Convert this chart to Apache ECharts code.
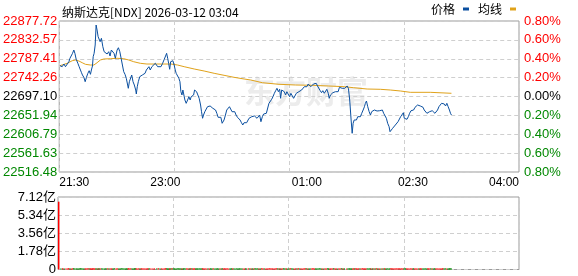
<!DOCTYPE html>
<html><head><meta charset="utf-8">
<script src="https://cdn.jsdelivr.net/npm/echarts@6/dist/echarts.min.js"></script>
<style>html,body{margin:0;padding:0;background:#fff}#c{width:578px;height:276px}</style>
</head><body><div id="c"></div>
<script>
const titleText = '纳斯达克[NDX] 2026-03-12 03:04';
const prevClose = 22697.10;
const priceStep = 45.155;
const leftLabels = ['22516.48','22561.63','22606.79','22651.94','22697.10','22742.26','22787.41','22832.57','22877.72'];
const rightLabels = ['0.80%','0.60%','0.40%','0.20%','0.00%','0.20%','0.40%','0.60%','0.80%'];
const volLabels = ['0','1.78亿','3.56亿','5.34亿','7.12亿'];
const volStep = 1.78;
const timeLabels = {0:'21:30', 90:'23:00', 210:'01:00', 300:'02:30', 390:'04:00'};

const priceTimes = [0.6,2.5,4.0,5.3,6.8,8.2,9.1,10.2,11.3,12.4,13.3,14.4,15.8,16.9,18.0,18.9,19.7,20.9,22.0,23.1,24.3,25.4,26.5,27.3,28.2,28.8,29.6,30.5,31.3,32.1,33.0,33.8,34.7,35.8,37.0,38.1,39.5,40.6,42.0,43.1,44.2,45.4,46.5,47.6,49.1,50.2,51.4,52.5,53.6,54.7,55.8,56.9,57.8,58.6,59.5,60.3,61.5,62.6,63.7,64.9,65.4,66.2,67.1,68.3,69.4,70.5,71.7,72.8,73.9,75.0,76.1,77.2,78.6,80.1,81.5,
83.5,84.9,86.3,87.7,89.1,90.3,91.1,92.0,92.8,93.7,94.5,95.3,96.4,97.5,98.4,99.2,100.4,101.5,102.4,103.2,104.1,104.9,105.8,106.6,107.7,108.9,110.0,111.1,111.9,113.1,114.0,114.8,115.6,116.5,117.6,118.7,119.9,120.7,121.6,122.4,123.5,124.6,125.8,126.9,128.0,129.2,130.3,131.4,132.6,133.7,134.8,136.0,137.1,138.2,139.0,139.8,141.0,142.1,143.2,144.4,145.5,146.6,147.8,148.9,150.0,151.2,152.3,153.4,154.6,155.7,156.8,158.0,159.0,
161.0,162.2,163.3,164.4,165.6,166.7,167.8,168.9,170.0,171.1,172.3,173.4,174.5,175.7,176.8,177.9,179.1,180.2,181.3,182.5,183.6,184.7,185.9,187.0,187.8,188.7,189.8,190.9,192.0,193.1,194.3,195.4,196.5,197.7,198.8,199.9,201.1,202.2,203.3,204.5,205.6,206.7,207.9,209.0,210.1,211.2,212.3,213.4,214.6,215.7,216.8,218.0,219.1,220.2,221.4,222.5,223.6,224.8,225.9,227.0,228.2,229.0,230.1,231.0,232.1,233.2,234.3,235.4,236.6,237.7,238.8,240.0,241.1,242.2,
244.2,245.3,246.4,247.6,248.5,249.3,250.2,251.0,252.1,253.2,254.4,255.5,256.6,257.8,258.9,259.7,260.6,261.7,262.9,264.0,265.0,266.2,267.3,268.4,269.6,270.7,271.8,273.0,274.1,275.2,276.4,277.5,278.6,279.8,280.6,281.7,282.8,284.0,285.1,286.2,287.4,288.5,289.6,290.8,291.9,292.7,293.8,295.0,296.1,297.2,298.4,299.5,300.6,301.8,302.9,304.0,305.2,306.3,307.4,308.6,309.6,310.7,311.9,313.0,314.1,315.3,316.4,317.5,318.7,319.8,320.9,322.1,323.2,324.3,325.5,326.6,327.7,328.8,329.9,331.0,331.9,332.7];

const prices = [22770.8,22768.4,22774.8,22768.4,22772.4,22780.3,22788.5,22786.1,22800.4,22808.3,22800.4,22786.1,22776.5,22768.4,22764.6,22754.0,22748.5,22743.0,22732.5,22743.0,22752.6,22758.8,22750.2,22760.5,22770.1,22792.3,22800.4,22820.3,22868.1,22856.2,22840.1,22844.2,22828.2,22836.3,22816.2,22804.3,22800.4,22798.8,22804.3,22794.0,22808.3,22812.4,22800.4,22788.5,22808.3,22813.8,22804.3,22788.5,22772.4,22756.4,22750.2,22740.6,22738.2,22716.7,22732.5,22736.6,22748.5,22732.5,22724.6,22712.6,22703.1,22720.5,22732.5,22744.5,22740.6,22748.5,22748.5,22752.6,22760.5,22764.6,22768.4,22760.5,22768.4,22772.4,22776.5,
22768.4,22770.1,22768.4,22776.5,22786.1,22788.5,22800.4,22788.5,22776.5,22762.2,22780.3,22776.5,22782.7,22772.4,22760.5,22752.6,22748.5,22740.6,22732.5,22708.6,22700.7,22712.6,22708.6,22688.7,22680.8,22688.7,22696.6,22688.7,22696.6,22692.8,22700.7,22712.6,22716.7,22708.6,22700.7,22692.8,22676.8,22660.7,22645.0,22652.8,22660.7,22664.8,22672.7,22668.9,22674.4,22672.7,22668.9,22672.7,22664.8,22656.9,22647.3,22645.0,22647.3,22633.0,22628.9,22640.9,22652.8,22664.8,22668.9,22672.7,22668.9,22660.7,22663.1,22660.7,22652.8,22647.3,22645.0,22640.9,22634.4,22628.9,22634.4,22636.8,22634.4,
22645.0,22640.9,22648.8,22647.3,22650.5,22648.8,22645.0,22642.6,22652.8,22636.8,22648.8,22655.2,22652.8,22656.9,22660.7,22680.8,22684.7,22690.4,22696.6,22704.8,22711.0,22716.7,22708.6,22714.3,22692.8,22712.6,22714.3,22708.6,22700.7,22708.6,22704.8,22696.6,22704.8,22700.7,22692.8,22698.3,22704.8,22703.1,22708.6,22706.2,22712.6,22716.7,22720.5,22724.6,22720.5,22727.0,22724.6,22720.5,22724.6,22727.0,22730.1,22728.7,22722.2,22720.5,22711.0,22706.2,22711.0,22704.8,22708.6,22714.3,22704.8,22692.8,22700.7,22704.8,22706.2,22704.8,22708.6,22712.6,22708.6,22719.1,22722.2,22716.7,22720.5,22716.7,
22722.2,22716.7,22688.7,22640.9,22609.1,22633.0,22640.9,22636.8,22640.9,22648.8,22652.8,22648.8,22656.9,22664.8,22672.7,22680.8,22686.3,22672.7,22660.7,22652.8,22660.7,22656.9,22664.8,22660.7,22662.4,22660.7,22663.1,22660.7,22664.8,22656.9,22658.3,22645.0,22633.0,22624.9,22612.9,22617.0,22621.0,22624.9,22628.9,22633.0,22636.8,22640.9,22648.8,22652.8,22658.3,22645.0,22642.6,22642.6,22648.8,22656.9,22663.1,22666.5,22664.8,22671.3,22672.7,22676.8,22672.7,22674.4,22676.8,22671.3,22664.8,22660.7,22656.9,22660.7,22660.7,22658.3,22663.1,22660.7,22656.9,22656.9,22664.8,22672.7,22676.8,22680.8,22682.3,22679.2,22674.4,22680.8,22672.7,22664.8,22656.9,22652.8];

const avgTimes = [0.6,6.8,11.0,13.8,16.7,19.5,22.3,26.5,29.4,32.1,34.9,37.8,43.4,49.1,54.7,59.0,63.2,68.8,74.4,82.3,94.8,100.4,106.0,114.5,122.9,131.4,139.8,148.3,156.8,162.4,172.3,186.4,200.5,214.6,228.7,242.2,249.8,261.2,272.4,280.9,289.3,297.8,314.7,316.1,332.7];
const avgPrices = [22770.8,22776.5,22782.7,22784.4,22782.0,22777.9,22774.1,22772.4,22772.4,22777.9,22784.4,22786.8,22787.5,22788.5,22787.5,22784.4,22780.3,22776.5,22774.8,22774.8,22774.8,22772.4,22768.4,22762.9,22758.1,22752.6,22747.8,22743.0,22739.0,22736.6,22730.1,22726.3,22724.6,22723.9,22722.2,22720.5,22718.1,22715.0,22714.3,22712.6,22710.3,22707.1,22707.1,22704.8,22704.8];

const volumes = [6.66,0.10,0.12,0.09,0.11,0.10,0.12,0.10,0.09,0.11,0.12,0.10,0.11,0.09,0.10,0.12,0.11,0.10,0.09,0.11,
0.10,0.12,0.10,0.11,0.09,0.10,0.12,0.11,0.10,0.09,0.11,0.10,0.12,0.10,0.11,0.09,0.10,0.12,0.11,0.10,
0.09,0.11,0.10,0.12,0.10,0.11,0.09,0.10,0.12,0.11,0.10,0.09,0.11,0.10,0.12,0.10,0.11,0.09,0.10,0.12,
0.11,0.10,0.09,0.11,0.10,0.12,0.10,0.11,0.09,0.10,0.12,0.11,0.10,0.09,0.11,0.10,0.12,0.10,0.11,0.09,
0.10,0.12,0.11,0.10,0.09,0.11,0.10,0.12,0.10,0.11,0.09,0.10,0.12,0.11,0.10,0.09,0.11,0.10,0.12,0.10,
0.11,0.09,0.10,0.12,0.11,0.10,0.09,0.11,0.10,0.12,0.10,0.11,0.09,0.10,0.12,0.11,0.10,0.09,0.11,0.10,
0.12,0.10,0.11,0.09,0.10,0.12,0.11,0.10,0.09,0.11,0.10,0.12,0.10,0.11,0.09,0.10,0.12,0.11,0.10,0.09,
0.11,0.10,0.12,0.10,0.11,0.09,0.10,0.12,0.11,0.10,0.09,0.11,0.10,0.12,0.10,0.11,0.09,0.10,0.12,0.11,
0.10,0.09,0.11,0.10,0.12,0.10,0.11,0.09,0.10,0.12,0.11,0.10,0.09,0.11,0.10,0.12,0.10,0.11,0.09,0.10,
0.12,0.11,0.10,0.09,0.11,0.10,0.12,0.10,0.11,0.09,0.10,0.12,0.11,0.10,0.09,0.11,0.10,0.12,0.10,0.11,
0.09,0.10,0.12,0.11,0.10,0.09,0.11,0.10,0.12,0.10,0.11,0.09,0.10,0.12,0.11,0.10,0.09,0.11,0.10,0.12,
0.10,0.11,0.09,0.10,0.12,0.11,0.10,0.09,0.11,0.10,0.12,0.10,0.11,0.09,0.10,0.12,0.11,0.10,0.09,0.11,
0.10,0.12,0.10,0.11,0.09,0.10,0.12,0.11,0.10,0.09,0.11,0.10,0.12,0.10,0.11,0.09,0.10,0.12,0.11,0.10,
0.09,0.11,0.10,0.12,0.10,0.11,0.09,0.10,0.12,0.11,0.10,0.09,0.11,0.10,0.12,0.10,0.11,0.09,0.10,0.12,
0.11,0.10,0.09,0.11,0.10,0.12,0.10,0.11,0.09,0.10,0.12,0.11,0.10,0.09,0.11,0.10,0.12,0.10,0.11,0.09,
0.10,0.12,0.11,0.10,0.09,0.11,0.10,0.12,0.10,0.11];

const RED = '#ff0000', GREEN = '#008800', BLUE = '#0a4fa0', GOLD = '#e0a21a';
const NUMFONT = "'Liberation Sans', Arial, 'Noto Sans CJK SC', sans-serif";
const CJKFONT = "'Noto Sans CJK SC', sans-serif";

const priceData = priceTimes.map((t, i) => [t, (prices[i] - prevClose) / priceStep]);
const avgData = avgTimes.map((t, i) => [t, (avgPrices[i] - prevClose) / priceStep]);
const nVol = Math.min(volumes.length, priceTimes.length);
const volData = [];
for (let i = 0; i < nVol; i++) {
  const up = i === 0 || prices[i] >= prices[i - 1];
  volData.push({ value: [priceTimes[i], volumes[i] / volStep], itemStyle: { color: up ? RED : GREEN } });
}
const colorByIndex = (v) => { const k = Math.round(v); return k > 0 ? RED : (k < 0 ? GREEN : '#000'); };
const dashed = { show: true, lineStyle: { color: '#cfcfcf', type: [4, 3], width: 1 } };

const chart = echarts.init(document.getElementById('c'), null, { renderer: 'canvas' });
chart.setOption({
  animation: false,
  backgroundColor: '#fff',
  title: { text: titleText, left: 57, top: 1, textStyle: { fontSize: 12, fontWeight: 'normal', color: '#000', fontFamily: CJKFONT } },
  legend: {
    data: ['价格', '均线'], left: 431, top: 3, padding: 0, align: 'right', icon: 'rect', itemWidth: 6, itemHeight: 3, itemGap: 9,
    textStyle: { fontSize: 12, color: '#000', fontFamily: CJKFONT, padding: [0, 3, 0, 0] }
  },
  graphic: [{
    type: 'text', left: 244, top: 76, z: 0, silent: true,
    style: { text: '东方财富', fill: '#ececec', font: "bold 31px 'Noto Sans CJK SC'" }
  }],
  grid: [
    { left: 58, top: 21, width: 461, height: 151, show: true, borderColor: '#9a9a9a', borderWidth: 1, backgroundColor: 'transparent' },
    { left: 58, top: 197, width: 461, height: 73, show: true, borderColor: '#9a9a9a', borderWidth: 1, backgroundColor: 'transparent' }
  ],
  xAxis: [
    { type: 'value', gridIndex: 0, min: 0, max: 390, interval: 97.5, axisLine: { show: false }, axisTick: { show: false }, axisLabel: { show: false }, splitLine: dashed },
    { type: 'value', gridIndex: 0, min: 0, max: 390, interval: 30, position: 'bottom', axisLine: { show: false }, axisTick: { show: false }, splitLine: { show: false },
      axisLabel: { show: true, margin: 5, fontSize: 12, color: '#000', fontFamily: NUMFONT, showMinLabel: true, showMaxLabel: true, hideOverlap: false,
        alignMinLabel: 'left', alignMaxLabel: 'right', formatter: (v) => timeLabels[Math.round(v)] || '' } },
    { type: 'value', gridIndex: 1, min: 0, max: 390, interval: 97.5, axisLine: { show: false }, axisTick: { show: false }, axisLabel: { show: false }, splitLine: dashed }
  ],
  yAxis: [
    { type: 'value', gridIndex: 0, min: -4, max: 4, interval: 1, axisLine: { show: false }, axisTick: { show: false }, splitLine: dashed,
      axisLabel: { margin: 2, fontSize: 13, fontFamily: NUMFONT, formatter: (v) => leftLabels[Math.round(v) + 4], color: colorByIndex } },
    { type: 'value', gridIndex: 0, min: -4, max: 4, interval: 1, position: 'right', axisLine: { show: false }, axisTick: { show: false }, splitLine: { show: false },
      axisLabel: { margin: 5, fontSize: 13, fontFamily: NUMFONT, formatter: (v) => rightLabels[Math.round(v) + 4], color: colorByIndex } },
    { type: 'value', gridIndex: 1, min: 0, max: 4, interval: 1, axisLine: { show: false }, axisTick: { show: false }, splitLine: dashed,
      axisLabel: { margin: 2, fontSize: 13, color: '#000', fontFamily: NUMFONT, formatter: (v) => volLabels[Math.round(v)] } }
  ],
  series: [
    { name: '均线', type: 'line', xAxisIndex: 0, yAxisIndex: 0, data: avgData, showSymbol: false, symbol: 'none', z: 3,
      lineStyle: { color: GOLD, width: 1 }, itemStyle: { color: GOLD } },
    { name: '价格', type: 'line', xAxisIndex: 0, yAxisIndex: 0, data: priceData, showSymbol: false, symbol: 'none', z: 4,
      lineStyle: { color: BLUE, width: 1 }, itemStyle: { color: BLUE } },
    { name: '成交量', type: 'bar', xAxisIndex: 2, yAxisIndex: 2, data: volData, barWidth: 1.5, z: 3 }
  ]
});
</script></body></html>
